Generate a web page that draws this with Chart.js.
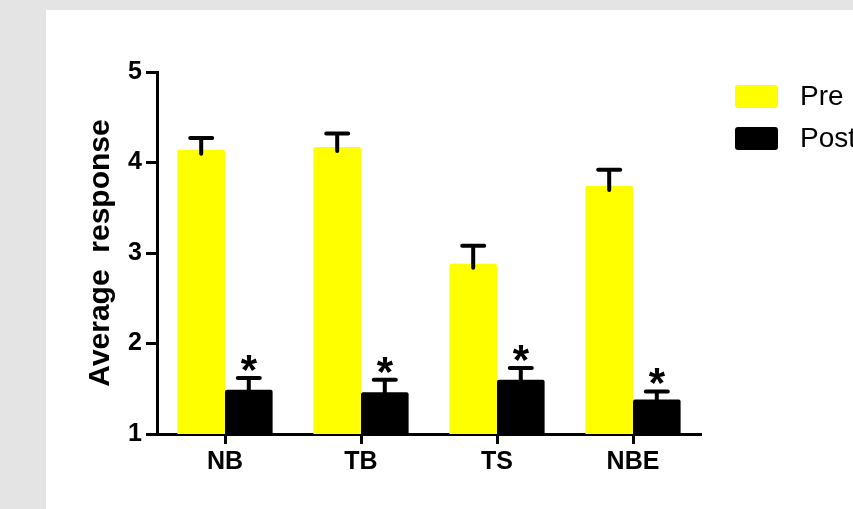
<!DOCTYPE html>
<html>
<head>
<meta charset="utf-8">
<script src="https://cdn.jsdelivr.net/npm/chart.js@4"></script>
<style>
  html, body { margin: 0; padding: 0; background: #e4e4e4; overflow: hidden; }
  #panel { position: absolute; left: 46px; top: 10px; width: 807px; height: 499px; background: #fff; }
  canvas { display: block; }
</style>
</head>
<body>
<div id="panel"><canvas id="chart" width="807" height="499"></canvas></div>
<script>
// groups on the x axis
const categories = ['NB', 'TB', 'TS', 'NBE'];
const seriesNames = ['Pre', 'Post'];
// mean values + error (SEM)
const preMean = [4.14, 4.17, 2.88, 3.74];
const preErr = [0.13, 0.15, 0.20, 0.18];
const postMean = [1.49, 1.46, 1.60, 1.38];
const postErr = [0.13, 0.14, 0.13, 0.09];
// significance marks over the Post bars
const postMarks = ['*', '*', '*', '*'];
const yTicks = [1, 2, 3, 4, 5];

const FONT = '"Liberation Sans", Arial, sans-serif';

// error bars (upper only) + asterisks
const errorBars = {
    id: 'errorBars',
    afterDatasetsDraw(chart) {
        const ctx = chart.ctx;
        const yScale = chart.scales.y;
        const errs = [preErr, postErr];
        ctx.save();
        ctx.strokeStyle = '#000';
        ctx.lineWidth = 4;
        ctx.lineCap = 'round';
        chart.data.datasets.forEach((ds, i) => {
            const meta = chart.getDatasetMeta(i);
            meta.data.forEach((bar, j) => {
                const top = yScale.getPixelForValue(ds.data[j] + errs[i][j]);
                ctx.beginPath();
                ctx.moveTo(bar.x, bar.y + 4);
                ctx.lineTo(bar.x, top);
                ctx.moveTo(bar.x - 11, top);
                ctx.lineTo(bar.x + 11, top);
                ctx.stroke();
                if (i === 1 && postMarks[j]) {
                    ctx.fillStyle = '#000';
                    ctx.font = 'bold 42px ' + FONT;
                    ctx.textAlign = 'center';
                    ctx.textBaseline = 'alphabetic';
                    ctx.fillText(postMarks[j], bar.x, top + 6);
                }
            });
        });
        ctx.restore();
    }
};

// legend to the right of the plot
const sideLegend = {
    id: 'sideLegend',
    afterDraw(chart) {
        const ctx = chart.ctx;
        const area = chart.chartArea;
        ctx.save();
        chart.data.datasets.forEach((ds, i) => {
            const bx = area.right + 34;
            const by = 75 + i * 42;
            ctx.fillStyle = ds.backgroundColor;
            ctx.beginPath();
            ctx.roundRect(bx, by, 43, 23, 3);
            ctx.fill();
            ctx.fillStyle = '#000';
            ctx.font = '28px ' + FONT;
            ctx.textAlign = 'left';
            ctx.textBaseline = 'middle';
            ctx.fillText(ds.label, bx + 65, by + 12);
        });
        ctx.restore();
    }
};

new Chart(document.getElementById('chart'), {
    type: 'bar',
    data: {
        labels: categories,
        datasets: [
            { label: seriesNames[0], data: preMean, backgroundColor: '#ffff00' },
            { label: seriesNames[1], data: postMean, backgroundColor: '#000000' }
        ]
    },
    options: {
        responsive: false,
        animation: false,
        events: [],
        layout: { padding: { left: 37, top: 62, right: 152, bottom: 0 } },
        datasets: {
            bar: { categoryPercentage: 0.7, barPercentage: 1.0, borderRadius: 2, borderSkipped: 'bottom' }
        },
        plugins: {
            legend: { display: false },
            tooltip: { enabled: false }
        },
        scales: {
            x: {
                grid: { offset: false, drawOnChartArea: false, drawTicks: true, tickLength: 10, tickWidth: 3, tickColor: '#000' },
                border: { color: '#000', width: 3 },
                ticks: { color: '#000', font: { family: FONT, size: 25, weight: 'bold' }, padding: 3 },
                afterFit(scale) { scale.height = 75; }
            },
            y: {
                min: yTicks[0],
                max: yTicks[yTicks.length - 1],
                afterBuildTicks(scale) { scale.ticks = yTicks.map(v => ({ value: v })); },
                grid: { drawOnChartArea: false, drawTicks: true, tickLength: 11, tickWidth: 3, tickColor: '#000' },
                border: { color: '#000', width: 3 },
                ticks: { color: '#000', font: { family: FONT, size: 25, weight: 'bold' }, padding: 4 },
                title: {
                    display: true,
                    text: 'Average  response',
                    color: '#000',
                    font: { family: FONT, size: 30, weight: 'bold' },
                    padding: 0
                },
                afterFit(scale) { scale.width = 74; }
            }
        }
    },
    plugins: [errorBars, sideLegend]
});
</script>
</body>
</html>
